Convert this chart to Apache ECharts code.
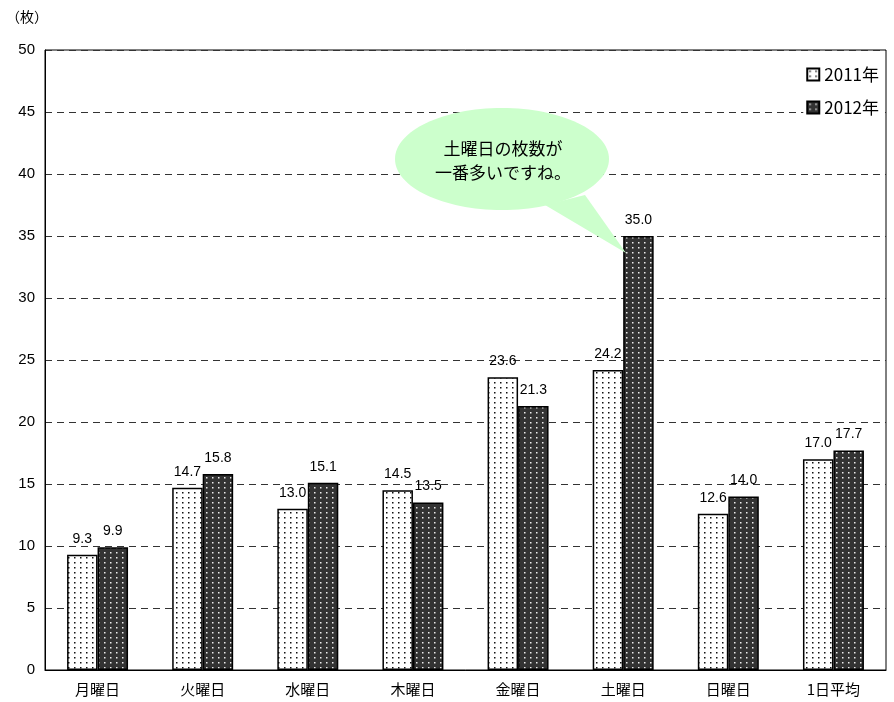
<!DOCTYPE html>
<html>
<head>
<meta charset="utf-8">
<script src="https://cdn.jsdelivr.net/npm/echarts@6/dist/echarts.min.js"></script>
<style>
  html, body { margin: 0; padding: 0; background: #fff; }
  #chart { width: 894px; height: 702px; }
</style>
</head>
<body>
<div id="chart"></div>
<script>
// 曜日別の枚数
const categories = ['月曜日', '火曜日', '水曜日', '木曜日', '金曜日', '土曜日', '日曜日', '1日平均']
const values2011 = [9.3, 14.7, 13.0, 14.5, 23.6, 24.2, 12.6, 17.0]
const values2012 = [9.9, 15.8, 15.1, 13.5, 21.3, 35.0, 14.0, 17.7]
const seriesNames = ['2011年', '2012年']
const unitLabel = '（枚）'
const calloutLines = ['土曜日の枚数が', '一番多いですね。']

const fontJp = '"Noto Sans CJK JP", "Liberation Sans", sans-serif'
const fontNum = '"Liberation Sans", sans-serif'

// dotted fill, like the excel pattern
function dotPattern(bg, fg) {
  const c = document.createElement('canvas')
  c.width = 6
  c.height = 5
  const ctx = c.getContext('2d')
  ctx.fillStyle = bg
  ctx.fillRect(0, 0, 6, 5)
  ctx.fillStyle = fg
  ctx.fillRect(2, 2, 1.5, 1.5)
  return c
}

const chart = echarts.init(document.getElementById('chart'))

const labelOpt = {
  show: true,
  position: 'top',
  distance: 9,
  color: '#000',
  fontSize: 14,
  fontFamily: fontNum,
  formatter: p => p.value.toFixed(1)
}

const option = {
  animation: false,
  textStyle: { fontFamily: fontJp },
  grid: {
    left: 45,
    right: 8,
    top: 50,
    bottom: 32,
    outerBoundsMode: 'none',
    show: true,
    borderColor: '#000',
    borderWidth: 1
  },
  legend: {
    orient: 'vertical',
    right: 12,
    top: 64,
    icon: 'rect',
    itemWidth: 12,
    itemHeight: 12,
    itemGap: 16,
    backgroundColor: '#fff',
    padding: [2, 3, 2, 3],
    textStyle: { fontSize: 17, color: '#000', fontFamily: fontJp },
    data: seriesNames
  },
  xAxis: {
    type: 'category',
    data: categories,
    axisLine: { lineStyle: { color: '#000' } },
    axisTick: { show: false },
    axisLabel: { color: '#000', fontSize: 15, margin: 12, fontFamily: fontJp }
  },
  yAxis: {
    type: 'value',
    min: 0,
    max: 50,
    interval: 5,
    axisLine: { show: true, lineStyle: { color: '#000' } },
    axisTick: { show: false },
    axisLabel: { color: '#000', fontSize: 15, margin: 10, fontFamily: fontNum },
    splitLine: { lineStyle: { color: '#333', type: [7, 5], width: 1 } }
  },
  series: [
    {
      name: seriesNames[0],
      type: 'bar',
      data: values2011,
      barGap: 0,
      barCategoryGap: '42%',
      itemStyle: {
        color: { image: dotPattern('#fff', '#111'), repeat: 'repeat' },
        borderColor: '#000',
        borderWidth: 1.5
      },
      label: labelOpt
    },
    {
      name: seriesNames[1],
      type: 'bar',
      data: values2012,
      barGap: 0,
      barCategoryGap: '42%',
      itemStyle: {
        color: { image: dotPattern('#333', '#eee'), repeat: 'repeat' },
        borderColor: '#000',
        borderWidth: 1.5
      },
      label: labelOpt
    }
  ],
  graphic: [
    {
      type: 'text',
      left: 6,
      top: 10,
      style: { text: unitLabel, fill: '#000', font: '14px ' + fontJp }
    },
    // speech bubble
    {
      type: 'polygon',
      shape: { points: [[545, 205], [585, 195], [626, 253]] },
      style: { fill: '#ccffcc' },
      z: 50
    },
    {
      type: 'ellipse',
      shape: { cx: 502, cy: 159, rx: 107, ry: 51 },
      style: { fill: '#ccffcc' },
      z: 50
    },
    {
      type: 'text',
      x: 503,
      y: 137,
      z: 51,
      style: {
        text: calloutLines.join('\n'),
        fill: '#000',
        font: '17px ' + fontJp,
        lineHeight: 24,
        align: 'center'
      }
    }
  ]
}

chart.setOption(option)
</script>
</body>
</html>
